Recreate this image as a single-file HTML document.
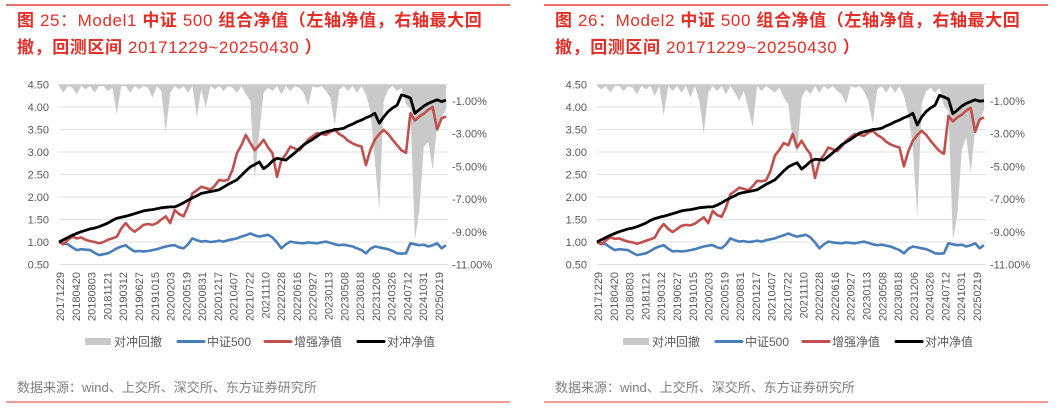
<!DOCTYPE html>
<html><head><meta charset="utf-8">
<style>
html,body{margin:0;padding:0;background:#fff;}
body{width:1061px;height:407px;overflow:hidden;position:relative;font-family:"Liberation Sans","Noto Sans CJK SC",sans-serif;}
svg text{font-family:"Liberation Sans","Noto Sans CJK SC",sans-serif;}
</style></head>
<body>
<svg id="chart" width="1061" height="407" viewBox="0 0 1061 407" xmlns="http://www.w3.org/2000/svg"></svg>
<script>
const xLabels = ["20171229","20180420","20180803","20181121","20190312","20190627","20191015","20200203","20200519","20200831","20201217","20210407","20210722","20211110","20220228","20220616","20220927","20230113","20230508","20230818","20231206","20240326","20240712","20241031","20250219"];
const leftTicks = [0.5,1.0,1.5,2.0,2.5,3.0,3.5,4.0,4.5];
const rightTicks = [-1,-3,-5,-7,-9,-11];
const legendLabels = ["对冲回撤","中证500","增强净值","对冲净值"];

const blue1 = [1.00,0.97,0.95,0.88,0.82,0.84,0.83,0.82,0.76,0.71,
0.73,0.75,0.80,0.86,0.90,0.93,0.85,0.79,0.80,0.79,
0.80,0.82,0.84,0.87,0.90,0.92,0.93,0.88,0.86,0.95,
1.08,1.04,1.01,1.02,1.00,1.01,1.03,1.01,1.04,1.06,
1.08,1.12,1.15,1.19,1.15,1.12,1.14,1.16,1.10,0.99,
0.86,0.95,1.01,0.99,0.98,0.97,0.99,0.98,0.97,0.99,
1.01,0.98,0.95,0.93,0.94,0.92,0.90,0.86,0.82,0.75,
0.85,0.90,0.88,0.86,0.84,0.80,0.75,0.74,0.75,0.97,
0.95,0.93,0.94,0.90,0.93,0.97,0.86,0.93];
const red1 = [1.00,0.95,1.05,1.12,1.08,1.10,1.05,1.02,1.00,0.97,
1.00,1.05,1.08,1.12,1.30,1.42,1.30,1.23,1.30,1.38,
1.40,1.38,1.42,1.50,1.57,1.42,1.71,1.62,1.57,1.79,
2.08,2.15,2.23,2.20,2.16,2.25,2.38,2.36,2.38,2.60,
2.97,3.15,3.38,3.20,3.04,3.15,3.27,3.10,2.97,2.45,
2.82,2.95,3.12,3.08,3.04,3.15,3.27,3.35,3.42,3.40,
3.38,3.45,3.49,3.40,3.34,3.25,3.19,3.15,3.12,2.71,
3.05,3.27,3.40,3.49,3.40,3.27,3.15,3.04,2.98,3.86,
3.70,3.79,3.85,3.94,4.00,3.50,3.75,3.79];
const black1 = [1.00,1.05,1.10,1.15,1.19,1.23,1.26,1.29,1.31,1.34,
1.38,1.42,1.48,1.53,1.55,1.57,1.60,1.63,1.66,1.69,
1.71,1.72,1.74,1.76,1.77,1.78,1.78,1.82,1.87,1.93,
1.98,2.03,2.08,2.10,2.12,2.14,2.16,2.22,2.28,2.33,
2.38,2.48,2.58,2.67,2.72,2.78,2.63,2.70,2.80,2.86,
2.84,2.82,2.90,2.98,3.07,3.16,3.22,3.28,3.35,3.42,
3.45,3.47,3.50,3.51,3.53,3.58,3.62,3.67,3.71,3.76,
3.80,3.86,3.64,3.78,3.90,3.98,4.04,4.27,4.24,4.20,
3.86,3.94,4.02,4.08,4.12,4.16,4.12,4.15];
const dd1 = [-0.1,-0.5,-0.1,-0.2,-0.6,-0.1,-0.3,-0.1,-0.5,-0.1,-0.1,-0.4,
-0.2,-1.8,-0.1,-0.1,-0.5,-0.1,-0.3,-0.1,-0.2,-0.8,-0.1,-0.4,
-2.9,-0.5,-0.1,-0.3,-0.1,-0.5,-0.1,-2.0,-0.3,-1.4,-0.1,-0.3,
-0.1,-0.4,-0.1,-0.2,-0.5,-0.1,-0.6,-1.0,-5.8,-3.0,-0.5,-0.2,
-0.4,-0.1,-0.6,-0.1,-0.4,-0.1,-0.2,-0.5,-1.3,-0.1,-0.2,-0.1,
-0.4,-0.8,-2.5,-0.3,-0.1,-0.4,-0.1,-0.5,-0.1,-0.6,-1.6,-4.6,
-7.7,-1.0,-0.3,-0.1,-0.4,-0.2,-1.2,-1.5,-9.5,-7.7,-3.8,-3.5,-5.2,-2.5,-2.0,-1.5];

const blue2 = blue1.slice();
const red2 = [1.00,0.95,1.04,1.10,1.07,1.08,1.04,1.01,0.99,0.96,
0.99,1.03,1.06,1.10,1.28,1.40,1.29,1.22,1.29,1.36,
1.38,1.37,1.41,1.48,1.55,1.42,1.69,1.60,1.56,1.77,
2.06,2.13,2.21,2.18,2.15,2.24,2.36,2.35,2.37,2.58,
2.92,3.05,3.20,3.15,3.40,3.10,3.25,3.08,2.95,2.42,
2.80,2.93,3.10,3.06,3.02,3.13,3.25,3.33,3.40,3.38,
3.36,3.43,3.47,3.38,3.32,3.23,3.17,3.13,3.10,2.68,
3.02,3.25,3.38,3.47,3.38,3.25,3.13,3.02,2.96,3.80,
3.68,3.77,3.83,3.92,3.98,3.45,3.72,3.77];
const black2 = [1.00,1.05,1.10,1.15,1.19,1.23,1.26,1.29,1.31,1.34,
1.38,1.42,1.48,1.52,1.55,1.57,1.60,1.63,1.66,1.69,
1.71,1.72,1.74,1.76,1.77,1.78,1.78,1.82,1.87,1.93,
1.98,2.03,2.08,2.10,2.12,2.14,2.16,2.22,2.28,2.33,
2.38,2.48,2.58,2.67,2.72,2.76,2.62,2.70,2.79,2.84,
2.83,2.82,2.90,2.98,3.07,3.16,3.22,3.28,3.35,3.42,
3.45,3.47,3.50,3.51,3.53,3.58,3.62,3.67,3.71,3.76,
3.80,3.86,3.60,3.78,3.90,3.98,4.04,4.26,4.22,4.18,
3.85,3.93,4.02,4.08,4.12,4.16,4.13,4.14];
const dd2 = [-0.1,-0.3,-0.1,-0.5,-0.1,-0.1,-0.4,-0.1,-0.2,-0.6,-0.1,-0.3,
-0.1,-0.7,-0.1,-1.9,-0.1,-0.4,-0.1,-0.5,-0.1,-0.8,-0.1,-1.0,
-3.0,-0.5,-0.1,-0.4,-0.1,-0.6,-0.1,-0.5,-1.0,-0.4,-1.4,-2.6,
-0.1,-0.4,-0.1,-0.3,-0.5,-0.2,-0.8,-1.2,-3.4,-4.2,-0.8,-0.3,
-0.6,-0.1,-0.5,-0.1,-0.3,-0.1,-0.4,-0.6,-1.2,-0.1,-0.2,-0.1,
-0.4,-1.0,-2.4,-0.3,-0.1,-0.5,-0.1,-0.5,-0.1,-0.7,-1.8,-3.8,
-8.1,-1.2,-0.4,-0.2,-0.5,-0.2,-1.3,-1.6,-9.5,-8.0,-4.0,-3.2,-5.4,-2.8,-2.2,-1.6];

const NS = "http://www.w3.org/2000/svg";
const svg = document.getElementById("chart");
function mk(tag, attrs, parent, txt){
  const e = document.createElementNS(NS, tag);
  for (const k in attrs) e.setAttribute(k, attrs[k]);
  if (txt !== undefined) e.textContent = txt;
  (parent || svg).appendChild(e);
  return e;
}
const TOP = 84.5, BOT = 264.5;
function yL(v){ return BOT - (v - 0.5) / 4.0 * (BOT - TOP); }
function yR(p){ return TOP + (-p) / 11 * (BOT - TOP); }

function titleLine(g, ox, y, parts, name){
  const t = mk("text", {x: ox + 17, y: y, fill: "#e32d26", "font-size": 17, "letter-spacing": "0.6"}, g);
  
  
  parts.forEach(p => {
    mk("tspan", {"font-weight": p[1] ? "bold" : "normal"}, t, p[0]);
  });
}

function drawPanel(ox, plotL, plotR, num, model, blue, red, black, dd, prefix){
  const g = mk("g", {});
  
  
  const n = blue.length;
  const xM = m => plotL + m * (plotR - plotL) / (n - 1);
  const tr = mk("line", {x1: ox + 6, x2: ox + 510, y1: 5, y2: 5, stroke: "#e0463b", "stroke-width": 1.5}, g);
  
  
  titleLine(g, ox, 26, [["图 ",1],[" " + num + "：" + model + " ",0],[" 中证 ",1],[" 500 ",0],[" 组合净值（左轴净值，右轴最大回",1]], prefix + '-title-line1');
  titleLine(g, ox, 53, [["撤，回测区间 ",1],["20171229~20250430",0],[" ）",1]], prefix + '-title-line2');
  leftTicks.forEach(v => {
    const gl = mk("line", {x1: plotL, x2: plotR + 2, y1: yL(v), y2: yL(v), stroke: "#e2e2e2", "stroke-width": 1}, g);
    
    
    const tl = mk("text", {x: plotL - 10, y: yL(v) + 4, fill: "#595959", "font-size": 11, "text-anchor": "end"}, g, v.toFixed(2));
    
    
  });
  rightTicks.forEach(p => {
    const tl = mk("text", {x: plotR + 6, y: yR(p) + 4, fill: "#595959", "font-size": 11}, g, p.toFixed(2) + "%");
    
    
  });
  let d = "M" + xM(0) + "," + TOP;
  dd.forEach((p, i) => { d += " L" + xM(i).toFixed(1) + "," + yR(p).toFixed(1); });
  d += " L" + xM(n - 1) + "," + TOP + " Z";
  const area = mk("path", {d: d, fill: "#c9c9c9"}, g);
  
  
  const line = (arr, color, w, name) => {
    const pts = arr.map((v, i) => xM(i).toFixed(1) + "," + yL(v).toFixed(1)).join(" ");
    const pl = mk("polyline", {points: pts, fill: "none", stroke: color, "stroke-width": w, "stroke-linejoin": "round"}, g);
    
    
  };
  line(blue, "#4a7ebb", 2.6, prefix + '-csi500-line');
  line(red, "#c0504d", 2.6, prefix + '-enhanced-nav-line');
  line(black, "#000000", 2.8, prefix + '-hedged-nav-line');
  const step = (plotR - 8 - plotL) / (xLabels.length - 1);
  xLabels.forEach((s, i) => {
    const x = plotL + 1 + i * step;
    const tl = mk("text", {x: 0, y: 0, fill: "#595959", "font-size": 11, "text-anchor": "end", transform: "translate(" + (x + 4) + ",272) rotate(-90)"}, g, s);
    
    
  });
  const lx = [ox + 85, ox + 178, ox + 265, ox + 358];
  const lc = ["#c9c9c9", "#4a7ebb", "#c0504d", "#000000"];
  legendLabels.forEach((lab, i) => {
    const le = mk("g", {}, g);
    
    
    if (i === 0) mk("rect", {x: lx[i], y: 338, width: 26, height: 7, fill: lc[i]}, le);
    else mk("line", {x1: lx[i], x2: lx[i] + 26, y1: 341.5, y2: 341.5, stroke: lc[i], "stroke-width": 3, "stroke-linecap": "round"}, le);
    mk("text", {x: lx[i] + 29, y: 346, fill: "#595959", "font-size": 12}, le, lab);
  });
  const src = mk("text", {x: ox + 17, y: 392, fill: "#7f7f7f", "font-size": 13}, g, "数据来源：wind、上交所、深交所、东方证券研究所");
  
  
  const br = mk("line", {x1: ox + 6, x2: ox + 510, y1: 402, y2: 402, stroke: "#ee7a74", "stroke-width": 1.5}, g);
  
  
}
drawPanel(0, 59, 446, "25", "Model1", blue1, red1, black1, dd1, "model1");
drawPanel(538, 597, 984, "26", "Model2", blue2, red2, black2, dd2, "model2");
</script>
</body></html>
